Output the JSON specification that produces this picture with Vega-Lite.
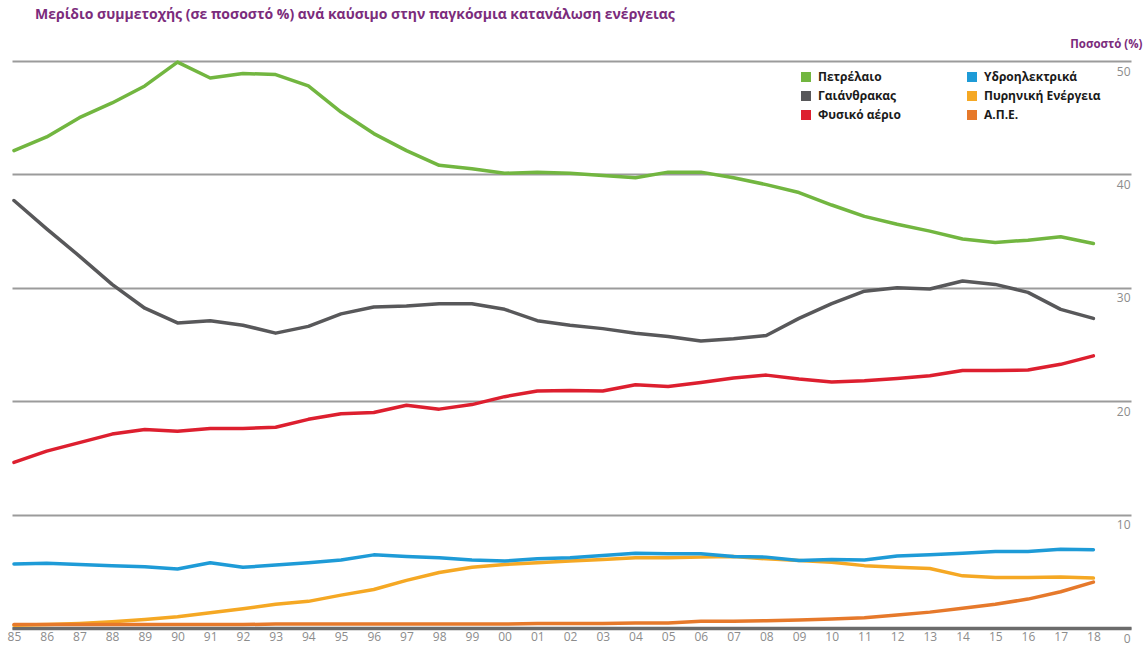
{
  "$schema": "https://vega.github.io/schema/vega-lite/v6.json",
  "width": 1119,
  "height": 567,
  "autosize": {"type": "none"},
  "padding": {"left": 12, "top": 61, "right": 13, "bottom": 22},
  "background": "white",
  "config": {"view": {"stroke": null}, "font": "Open Sans"},
  "title": {
    "text": "Μερίδιο συμμετοχής (σε ποσοστό %) ανά καύσιμο στην παγκόσμια κατανάλωση ενέργειας",
    "anchor": "start",
    "frame": "group",
    "dx": 23,
    "dy": -12,
    "font": "Open Sans",
    "fontSize": 14,
    "fontWeight": "bold",
    "color": "#7b2c7c"
  },
  "data": {
    "values": [
      {"year": 1985, "oil": 42.1, "coal": 37.7, "gas": 14.6, "hydro": 5.65, "nuclear": 0.25, "renew": 0.3},
      {"year": 1986, "oil": 43.3, "coal": 35.2, "gas": 15.6, "hydro": 5.7, "nuclear": 0.3, "renew": 0.3},
      {"year": 1987, "oil": 45.0, "coal": 32.8, "gas": 16.35, "hydro": 5.6, "nuclear": 0.4, "renew": 0.3},
      {"year": 1988, "oil": 46.3, "coal": 30.3, "gas": 17.1, "hydro": 5.5, "nuclear": 0.55, "renew": 0.3},
      {"year": 1989, "oil": 47.8, "coal": 28.2, "gas": 17.5, "hydro": 5.4, "nuclear": 0.75, "renew": 0.3},
      {"year": 1990, "oil": 49.9, "coal": 26.9, "gas": 17.35, "hydro": 5.2, "nuclear": 1.0, "renew": 0.3},
      {"year": 1991, "oil": 48.5, "coal": 27.1, "gas": 17.6, "hydro": 5.75, "nuclear": 1.35, "renew": 0.3},
      {"year": 1992, "oil": 48.9, "coal": 26.7, "gas": 17.6, "hydro": 5.35, "nuclear": 1.7, "renew": 0.3},
      {"year": 1993, "oil": 48.8, "coal": 26.0, "gas": 17.7, "hydro": 5.55, "nuclear": 2.1, "renew": 0.35},
      {"year": 1994, "oil": 47.8, "coal": 26.6, "gas": 18.4, "hydro": 5.75, "nuclear": 2.35, "renew": 0.35},
      {"year": 1995, "oil": 45.5, "coal": 27.7, "gas": 18.9, "hydro": 6.0, "nuclear": 2.9, "renew": 0.35},
      {"year": 1996, "oil": 43.6, "coal": 28.3, "gas": 19.0, "hydro": 6.45, "nuclear": 3.4, "renew": 0.35},
      {"year": 1997, "oil": 42.1, "coal": 28.4, "gas": 19.65, "hydro": 6.3, "nuclear": 4.2, "renew": 0.35},
      {"year": 1998, "oil": 40.8, "coal": 28.6, "gas": 19.3, "hydro": 6.2, "nuclear": 4.9, "renew": 0.35},
      {"year": 1999, "oil": 40.5, "coal": 28.6, "gas": 19.7, "hydro": 6.0, "nuclear": 5.35, "renew": 0.35},
      {"year": 2000, "oil": 40.1, "coal": 28.1, "gas": 20.4, "hydro": 5.9, "nuclear": 5.6, "renew": 0.35},
      {"year": 2001, "oil": 40.2, "coal": 27.1, "gas": 20.9, "hydro": 6.1, "nuclear": 5.75, "renew": 0.4},
      {"year": 2002, "oil": 40.1, "coal": 26.7, "gas": 20.95, "hydro": 6.2, "nuclear": 5.9, "renew": 0.4},
      {"year": 2003, "oil": 39.9, "coal": 26.4, "gas": 20.9, "hydro": 6.4, "nuclear": 6.05, "renew": 0.4},
      {"year": 2004, "oil": 39.7, "coal": 26.0, "gas": 21.45, "hydro": 6.6, "nuclear": 6.2, "renew": 0.45},
      {"year": 2005, "oil": 40.2, "coal": 25.7, "gas": 21.3, "hydro": 6.55, "nuclear": 6.2, "renew": 0.45},
      {"year": 2006, "oil": 40.2, "coal": 25.3, "gas": 21.65, "hydro": 6.55, "nuclear": 6.25, "renew": 0.6},
      {"year": 2007, "oil": 39.7, "coal": 25.5, "gas": 22.05, "hydro": 6.3, "nuclear": 6.3, "renew": 0.6},
      {"year": 2008, "oil": 39.1, "coal": 25.8, "gas": 22.3, "hydro": 6.25, "nuclear": 6.1, "renew": 0.65},
      {"year": 2009, "oil": 38.4, "coal": 27.3, "gas": 21.95, "hydro": 5.95, "nuclear": 5.95, "renew": 0.7},
      {"year": 2010, "oil": 37.3, "coal": 28.6, "gas": 21.7, "hydro": 6.05, "nuclear": 5.8, "renew": 0.8},
      {"year": 2011, "oil": 36.3, "coal": 29.7, "gas": 21.8, "hydro": 6.0, "nuclear": 5.5, "renew": 0.9},
      {"year": 2012, "oil": 35.6, "coal": 30.0, "gas": 22.0, "hydro": 6.35, "nuclear": 5.35, "renew": 1.15},
      {"year": 2013, "oil": 35.0, "coal": 29.9, "gas": 22.25, "hydro": 6.45, "nuclear": 5.25, "renew": 1.4},
      {"year": 2014, "oil": 34.3, "coal": 30.6, "gas": 22.7, "hydro": 6.6, "nuclear": 4.6, "renew": 1.75},
      {"year": 2015, "oil": 34.0, "coal": 30.3, "gas": 22.7, "hydro": 6.75, "nuclear": 4.45, "renew": 2.1},
      {"year": 2016, "oil": 34.2, "coal": 29.6, "gas": 22.75, "hydro": 6.75, "nuclear": 4.45, "renew": 2.55},
      {"year": 2017, "oil": 34.5, "coal": 28.1, "gas": 23.25, "hydro": 6.95, "nuclear": 4.5, "renew": 3.2},
      {"year": 2018, "oil": 33.9, "coal": 27.3, "gas": 24.0, "hydro": 6.9, "nuclear": 4.4, "renew": 4.05}
    ]
  },
  "transform": [
    {"fold": ["nuclear", "renew", "hydro", "gas", "coal", "oil"], "as": ["fuel", "share"]}
  ],
  "mark": {"type": "line", "strokeWidth": 3.5, "strokeJoin": "round", "strokeCap": "round"},
  "encoding": {
    "x": {
      "field": "year",
      "type": "quantitative",
      "scale": {"domain": [1984.94, 2019.15], "nice": false, "zero": false},
      "axis": {
        "title": null,
        "values": [1985, 1986, 1987, 1988, 1989, 1990, 1991, 1992, 1993, 1994, 1995, 1996, 1997, 1998, 1999, 2000, 2001, 2002, 2003, 2004, 2005, 2006, 2007, 2008, 2009, 2010, 2011, 2012, 2013, 2014, 2015, 2016, 2017, 2018],
        "labelExpr": "substring(toString(datum.value), 2)",
        "grid": false,
        "ticks": false,
        "tickSize": 0,
        "domain": true,
        "domainColor": "#6b6b6b",
        "domainWidth": 3.5,
        "labelFont": "Open Sans",
        "labelFontSize": 12,
        "labelColor": "#8c8c8c",
        "labelPadding": 3,
        "labelFlush": false,
        "labelOverlap": false,
        "labelBound": false
      }
    },
    "y": {
      "field": "share",
      "type": "quantitative",
      "scale": {"domain": [0, 50], "nice": false},
      "axis": {
        "orient": "right",
        "values": [0, 10, 20, 30, 40, 50],
        "grid": true,
        "gridColor": "#9b9b9b",
        "gridWidth": 2,
        "domain": false,
        "ticks": false,
        "tickSize": 0,
        "labelAlign": "right",
        "labelBaseline": "middle",
        "labelPadding": -1,
        "labelOffset": 10,
        "labelFlush": false,
        "labelOverlap": false,
        "labelFont": "Open Sans",
        "labelFontSize": 12,
        "labelColor": "#8c8c8c",
        "title": "Ποσοστό (%)",
        "titleAngle": 0,
        "titleAlign": "right",
        "titleBaseline": "middle",
        "titleX": 11,
        "titleY": -17,
        "titleFont": "Open Sans",
        "titleFontSize": 11.5,
        "titleFontWeight": "bold",
        "titleColor": "#7b2c7c"
      }
    },
    "color": {
      "field": "fuel",
      "type": "nominal",
      "scale": {
        "domain": ["oil", "coal", "gas", "hydro", "nuclear", "renew"],
        "range": ["#72b640", "#58585a", "#dd1f2f", "#1e9bd7", "#f5a824", "#e6792b"]
      },
      "legend": {
        "orient": "none",
        "legendX": 788,
        "legendY": 10,
        "columns": 2,
        "title": null,
        "symbolType": "square",
        "symbolSize": 100,
        "symbolStrokeWidth": 0,
        "symbolOpacity": 1,
        "labelFont": "Open Sans",
        "labelFontSize": 12,
        "labelFontWeight": "bold",
        "labelColor": "#1a1a1a",
        "labelOffset": 6,
        "rowPadding": 7,
        "columnPadding": 65,
        "labelExpr": "datum.label == 'oil' ? 'Πετρέλαιο' : datum.label == 'coal' ? 'Γαιάνθρακας' : datum.label == 'gas' ? 'Φυσικό αέριο' : datum.label == 'hydro' ? 'Υδροηλεκτρικά' : datum.label == 'nuclear' ? 'Πυρηνική Ενέργεια' : 'Α.Π.Ε.'",
        "encode": {
          "symbols": {"update": {"fill": {"scale": "color", "field": "value"}, "strokeWidth": {"value": 0}}}
        }
      }
    }
  }
}
